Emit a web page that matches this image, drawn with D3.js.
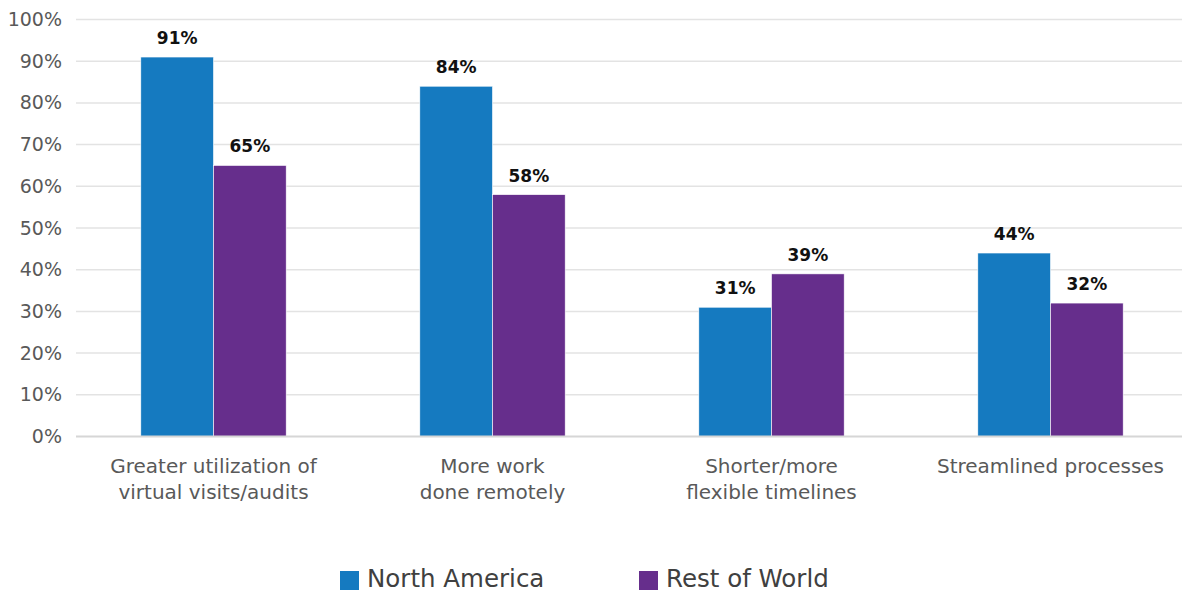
<!DOCTYPE html>
<html>
<head>
<meta charset="utf-8">
<script src="https://cdn.jsdelivr.net/npm/d3@7"></script>
<style>
  html, body { margin: 0; padding: 0; background: #fff; }
  svg { display: block; font-family: "DejaVu Sans", sans-serif; }
</style>
</head>
<body>
<svg id="chart" width="1182" height="590"></svg>
<script>
// Survey results by region
const categories = [
  ["Greater utilization of", "virtual visits/audits"],
  ["More work", "done remotely"],
  ["Shorter/more", "flexible timelines"],
  ["Streamlined processes"]
];
const seriesNames = ["North America", "Rest of World"];
const northAmerica = [91, 84, 31, 44];
const restOfWorld = [65, 58, 39, 32];
const yTicks = [0, 10, 20, 30, 40, 50, 60, 70, 80, 90, 100];
const colors = ["#157ac0", "#662e8c"];

const FONT = "'DejaVu Sans', sans-serif";
const svg = d3.select("#chart");
const plotLeft = 76, plotRight = 1182;
const yTop = 19.5, yBottom = 436.5;

const x = d3.scaleBand()
  .domain(d3.range(categories.length))
  .range([74, 1190])
  .paddingInner(0).paddingOuter(0);

const groupWidth = x.bandwidth() * 0.521;
const xs = d3.scaleBand()
  .domain(seriesNames)
  .range([0, groupWidth]);

const y = d3.scaleLinear().domain([0, 100]).range([yBottom, yTop]);

// gridlines
svg.append("g")
  .selectAll("line")
  .data(yTicks.filter(d => d > 0))
  .join("line")
  .attr("x1", plotLeft).attr("x2", plotRight)
  .attr("y1", d => y(d)).attr("y2", d => y(d))
  .attr("stroke", "#e3e3e3").attr("stroke-width", 1.5);

// y axis labels
const yAxis = d3.axisLeft(y).tickValues(yTicks).tickSize(0).tickPadding(0)
  .tickFormat(d => d + "%");
svg.append("g")
  .attr("transform", `translate(62,0)`)
  .call(yAxis)
  .call(g => g.select(".domain").remove())
  .call(g => g.selectAll("text")
    .attr("fill", "#595959")
    .attr("font-size", 19)
    .attr("font-family", FONT));

// bars
const seriesData = [northAmerica, restOfWorld];
const groups = svg.append("g")
  .selectAll("g")
  .data(categories.map((c, i) => i))
  .join("g")
  .attr("transform", i => `translate(${x(i) + (x.bandwidth() - groupWidth) / 2},0)`);

groups.selectAll("rect")
  .data(i => seriesNames.map((s, k) => ({ s, k, v: seriesData[k][i] })))
  .join("rect")
  .attr("x", d => xs(d.s))
  .attr("y", d => y(d.v))
  .attr("width", xs.bandwidth())
  .attr("height", d => y(0) - y(d.v))
  .attr("fill", d => colors[d.k])
  .attr("stroke", "#ffffff")
  .attr("stroke-width", 0.6);

groups.selectAll("text.val")
  .data(i => seriesNames.map((s, k) => ({ s, k, v: seriesData[k][i] })))
  .join("text")
  .attr("class", "val")
  .attr("x", d => xs(d.s) + xs.bandwidth() / 2)
  .attr("y", d => y(d.v) - 13)
  .attr("text-anchor", "middle")
  .attr("font-size", 17)
  .attr("font-weight", "bold")
  .attr("fill", "#111")
  .text(d => d.v + "%");

// baseline
svg.append("line")
  .attr("x1", plotLeft).attr("x2", plotRight)
  .attr("y1", y(0)).attr("y2", y(0))
  .attr("stroke", "#d6d6d6").attr("stroke-width", 2);

// category labels
const catG = svg.append("g");
categories.forEach((lines, i) => {
  const t = catG.append("text")
    .attr("text-anchor", "middle")
    .attr("font-size", 20)
    .attr("fill", "#595959");
  lines.forEach((ln, j) => {
    t.append("tspan")
      .attr("x", x(i) + x.bandwidth() / 2)
      .attr("y", 473 + j * 26)
      .text(ln);
  });
});

// legend
const legend = svg.append("g");
const legendX = [340, 639];
seriesNames.forEach((s, k) => {
  legend.append("rect")
    .attr("x", legendX[k]).attr("y", 571)
    .attr("width", 19).attr("height", 19)
    .attr("fill", colors[k]);
  legend.append("text")
    .attr("x", legendX[k] + 27).attr("y", 587)
    .attr("font-size", 24.5)
    .attr("fill", "#404040")
    .text(s);
});
</script>
</body>
</html>
